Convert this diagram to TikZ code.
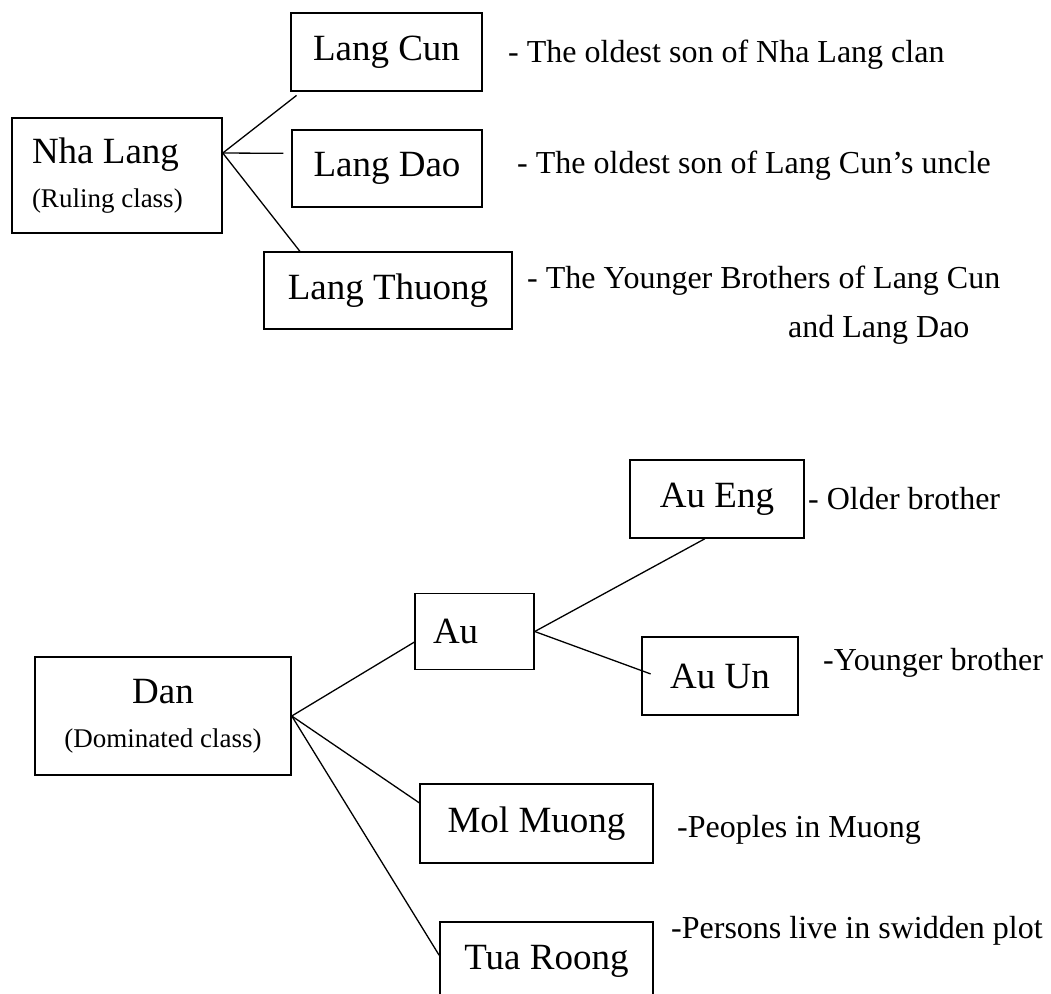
\documentclass[tikz,border=0pt]{standalone}
\usepackage{fontspec}
\setmainfont{Liberation Serif}
\begin{document}
\begin{tikzpicture}[x=1pt, y=-1pt,
    box/.style={draw, line width=1.5pt, inner sep=0pt, minimum height=77pt, font=\fontsize{37}{44}\selectfont},
    note/.style={anchor=base west, inner sep=0pt, font=\fontsize{32}{38}\selectfont}]
  \path[use as bounding box, fill=white] (0,0) rectangle (1051,993);
  \clip (0,0) rectangle (1051,993);
  % ruling class
  \node (1) at (117,175.5) [box, minimum height=115pt, text width=170pt, inner xsep=20pt, align=flush left] {Nha Lang\\\fontsize{27}{39}\selectfont(Ruling class)};
  \node (2) at (386.5,52) [box, minimum width=191pt, minimum height=78pt] {Lang Cun};
  \node (3) at (387,168.5) [box, minimum width=190pt] {Lang Dao};
  \node (4) at (388,290.5) [box, minimum width=248pt] {Lang Thuong};
  % dominated class
  \node (5) at (163,716) [box, minimum width=256pt, minimum height=118pt, align=center] {Dan\\\fontsize{27}{38}\selectfont(Dominated class)};
  \node (6) at (474.5,631.5) [box, text width=83pt, inner xsep=18pt, minimum height=76pt, align=flush left] {Au};
  \node (7) at (717,499) [box, minimum width=174pt, minimum height=78pt] {Au Eng};
  \node (8) at (720,676) [box, minimum width=156pt, minimum height=78pt] {Au Un};
  \node (9) at (536.5,823.5) [box, minimum width=233pt, minimum height=79pt] {Mol Muong};
  \node (10) at (546.5,961) [box, minimum width=213pt, minimum height=78pt] {Tua Roong};
  % notes
  \node (n2) at (508,62) [note] {- The oldest son of Nha Lang clan};
  \node (n3) at (517,173) [note] {- The oldest son of Lang Cun's uncle};
  \node (n4) at (527,288) [note] {- The Younger Brothers of Lang Cun};
  \node (n4b) at (788,337) [note] {and Lang Dao};
  \node (n7) at (808,509) [note] {- Older brother};
  \node (n8) at (823,670) [note] {-Younger brother};
  \node (n9) at (677,837) [note] {-Peoples in Muong};
  \node (n10) at (671,938) [note] {-Persons live in swidden plot};
  \foreach \source/\dest/\gap in {1.12/2.205/6, 1.12/3.171/8, 1.12/4.156/0, 5.east/6.190/0, 5.east/9.170/0, 5.east/10.177/0, 6.east/7.253/0, 6.east/8.176/-10}
    \draw[line width=1.3pt, shorten >=\gap pt] (\source) -- (\dest);
\end{tikzpicture}
\end{document}
